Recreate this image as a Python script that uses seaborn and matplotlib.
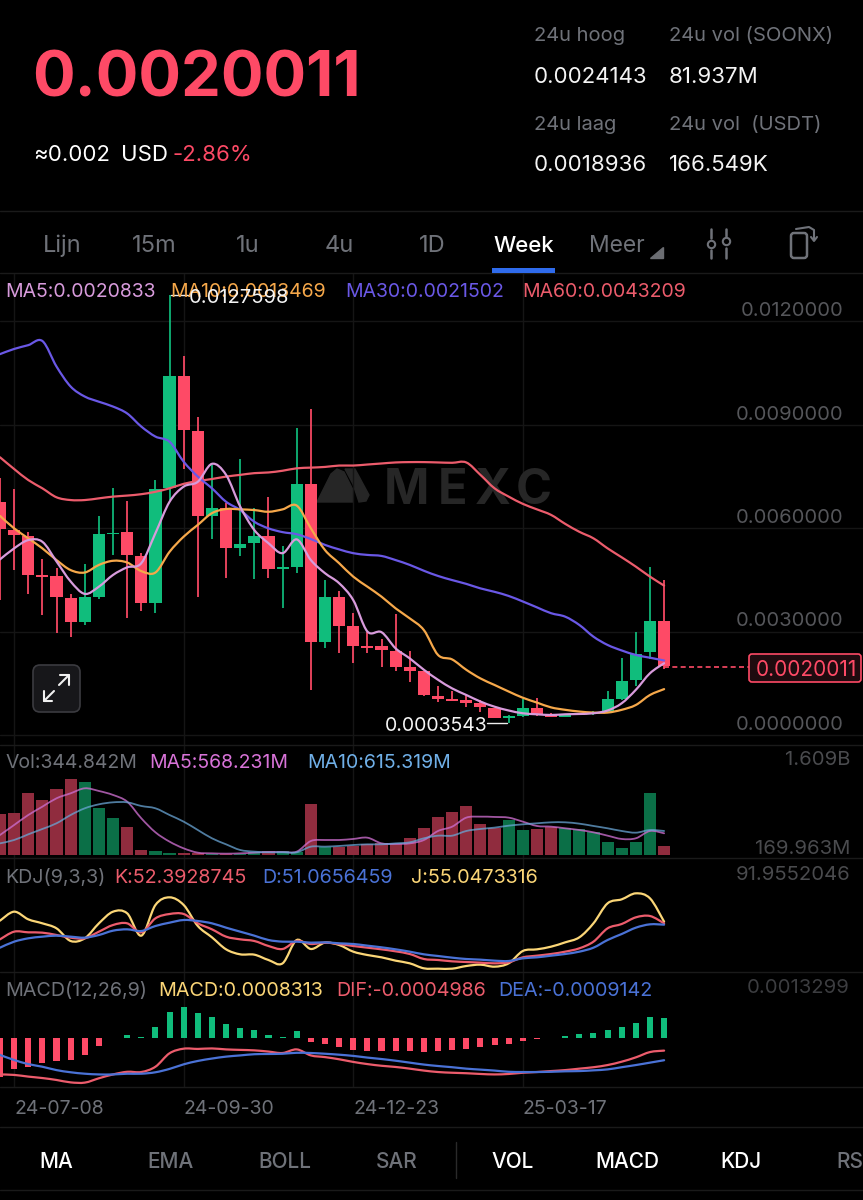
import numpy as np
import pandas as pd
import seaborn as sns
import matplotlib
matplotlib.use("Agg")
import matplotlib.pyplot as plt
from matplotlib.patches import FancyBboxPatch, Polygon, Rectangle
from matplotlib.path import Path
from matplotlib.patheffects import AbstractPathEffect
from matplotlib.transforms import ScaledTranslation

# ---------- data (prices in units of 0.001) ----------
opens = [6.764,5.943,5.779,4.620,4.600,3.982,3.287,4.001,5.817,5.875,5.199,3.837,7.150,10.416,8.822,6.339,6.571,5.431,5.557,5.779,4.813,4.880,7.266,2.706,3.991,3.160,2.581,2.581,2.446,1.972,1.847,1.142,1.016,1.026,0.939,0.775,0.504,0.552,0.775,0.610,0.523,0.581,0.601,0.678,1.055,1.595,2.397,3.315]
closes = [5.962,5.798,4.639,4.581,3.992,3.287,3.992,5.817,5.866,5.219,3.837,7.121,10.416,8.831,6.339,6.581,5.431,5.537,5.779,4.803,4.861,7.266,2.706,3.991,3.170,2.590,2.532,2.465,1.982,1.847,1.151,1.045,0.987,0.939,0.803,0.485,0.552,0.775,0.610,0.533,0.572,0.630,0.678,1.045,1.576,2.349,3.315,2.001]
highs = [7.440,7.131,5.875,5.093,4.832,4.088,4.958,6.358,7.150,6.783,5.267,7.392,12.760,10.985,9.227,7.827,6.716,7.991,6.571,6.890,5.489,8.909,9.440,4.494,4.184,3.528,2.996,2.774,3.499,2.446,1.847,1.422,1.277,1.161,1.016,0.775,0.581,1.035,1.064,0.630,0.590,0.640,0.707,1.286,2.223,2.977,4.880,4.484]
lows = [3.914,4.784,4.088,3.480,2.948,2.852,3.190,3.934,5.209,3.402,3.595,3.547,6.812,7.711,3.992,5.672,4.542,5.199,4.513,4.562,3.673,4.687,1.306,2.513,2.368,2.098,2.388,1.982,1.866,1.547,1.132,0.968,0.987,0.823,0.678,0.485,0.354,0.514,0.552,0.514,0.510,0.570,0.581,0.630,1.016,1.422,2.194,1.904]
ma5 = [5.09,5.41,5.65,5.60,5.03,4.45,4.09,4.30,4.64,4.86,4.98,5.85,6.76,7.20,7.34,7.86,7.54,6.62,5.94,5.56,5.27,5.67,5.07,4.69,4.40,3.91,3.00,2.98,2.51,2.22,1.89,1.60,1.35,1.16,0.97,0.82,0.71,0.63,0.60,0.58,0.60,0.61,0.63,0.71,0.92,1.31,1.79,2.08]
ma10 = [6.35,5.99,5.70,5.41,5.07,4.78,4.71,4.93,5.05,5.00,4.75,4.71,5.31,5.75,6.09,6.43,6.55,6.54,6.52,6.47,6.54,6.65,5.99,5.36,4.98,4.59,4.30,4.01,3.67,3.38,3.04,2.32,2.19,1.89,1.64,1.45,1.26,1.08,0.94,0.80,0.73,0.68,0.65,0.65,0.73,0.87,1.16,1.33]
ma30 = [11.04,11.19,11.30,11.42,10.68,10.10,9.81,9.66,9.52,9.32,8.94,8.65,8.50,7.92,7.49,7.15,6.76,6.52,6.18,5.99,5.88,5.82,5.68,5.51,5.38,5.27,5.22,5.19,5.07,4.93,4.76,4.61,4.49,4.38,4.25,4.15,4.03,3.87,3.70,3.53,3.43,3.19,2.85,2.61,2.45,2.32,2.24,2.16]
ma60 = [8.05,7.71,7.39,7.15,6.89,6.81,6.81,6.86,6.91,6.94,6.98,7.05,7.15,7.28,7.36,7.42,7.49,7.54,7.59,7.61,7.66,7.73,7.75,7.77,7.81,7.81,7.84,7.87,7.90,7.91,7.91,7.90,7.89,7.90,7.54,7.15,6.91,6.70,6.54,6.38,6.12,5.89,5.70,5.41,5.15,4.88,4.59,4.33]
volume = [959,992,1367,1238,1445,1645,1580,1076,895,707,267,254,215,209,202,196,189,189,235,248,254,235,1153,332,332,351,377,396,384,506,688,914,998,1128,765,688,843,649,675,720,701,675,610,416,299,429,1380,345]
vol_ma5 = [558,752,946,1108,1270,1367,1464,1412,1335,1205,882,610,429,299,215,202,196,202,215,228,228,235,442,461,461,481,506,396,384,396,461,636,720,895,914,908,895,817,733,720,688,655,610,545,481,494,636,591]
vol_ma10 = [396,461,571,675,785,946,1076,1153,1192,1192,1121,1076,946,817,655,494,377,267,235,222,222,222,332,332,345,364,377,377,396,416,494,545,545,636,675,701,739,765,785,804,804,778,733,688,636,603,655,636]
kdj_k = [28.4,39.9,38.9,38.4,34.9,30.9,29.9,39.9,49.9,52.4,38.9,59.9,66.4,66.4,52.4,43.4,32.4,28.4,25.9,18.4,13.9,25.9,21.4,23.4,21.4,18.4,15.9,13.4,10.4,6.4,-1.1,-2.6,-4.6,-5.6,-6.6,-7.6,-6.1,1.4,3.9,6.4,9.9,14.9,24.9,44.9,51.4,61.4,63.4,52.4]
kdj_d = [15.9,24.9,29.9,32.4,33.9,32.4,30.9,34.9,41.4,43.4,40.9,48.4,53.4,57.4,55.9,52.4,45.9,39.9,33.9,27.4,24.9,24.9,23.4,23.9,22.4,21.4,18.9,16.4,13.4,9.9,5.9,3.4,0.9,-1.1,-2.1,-3.6,-4.1,-0.1,1.4,3.9,6.4,9.9,15.9,27.4,36.4,45.9,50.9,50.4]
kdj_j = [56.4,69.9,58.4,52.4,44.9,25.9,29.9,52.4,69.9,67.4,33.9,79.9,91.4,79.9,48.4,31.4,13.4,5.9,5.4,-2.6,-7.6,27.4,13.9,23.4,19.9,9.9,4.9,1.4,-3.6,-7.6,-15.1,-15.6,-15.6,-11.6,-9.6,-12.6,-7.6,10.9,13.4,17.4,23.9,31.4,52.4,82.4,88.4,97.4,89.9,54.9]
macd_hist = [-1.59,-1.29,-1.18,-1.01,-0.93,-0.90,-0.71,-0.30,0.02,0.14,0.07,0.46,1.11,1.30,1.05,0.87,0.61,0.43,0.33,0.15,0.06,0.29,-0.14,-0.24,-0.36,-0.48,-0.54,-0.54,-0.54,-0.54,-0.57,-0.54,-0.48,-0.43,-0.35,-0.29,-0.22,-0.10,-0.04,0.03,0.10,0.17,0.24,0.33,0.47,0.65,0.87,0.83]
macd_dif = [-1.50,-1.52,-1.59,-1.65,-1.73,-1.83,-1.84,-1.66,-1.50,-1.39,-1.40,-1.18,-0.62,-0.43,-0.44,-0.42,-0.46,-0.48,-0.50,-0.55,-0.61,-0.46,-0.71,-0.78,-0.87,-0.98,-1.07,-1.14,-1.19,-1.26,-1.34,-1.40,-1.43,-1.45,-1.48,-1.50,-1.48,-1.43,-1.40,-1.36,-1.32,-1.26,-1.20,-1.11,-0.97,-0.79,-0.57,-0.51]
macd_dea = [-0.69,-0.90,-1.07,-1.18,-1.32,-1.41,-1.47,-1.50,-1.50,-1.47,-1.47,-1.41,-1.27,-1.08,-0.94,-0.84,-0.76,-0.71,-0.66,-0.65,-0.64,-0.60,-0.61,-0.64,-0.68,-0.73,-0.80,-0.86,-0.93,-1.01,-1.09,-1.15,-1.20,-1.26,-1.30,-1.34,-1.39,-1.40,-1.40,-1.39,-1.37,-1.36,-1.33,-1.29,-1.20,-1.11,-1.01,-0.91]
date_ticks = [1, 13, 25, 37]
date_labels = ["24-07-08", "24-09-30", "24-12-23", "25-03-17"]
price_ticks = [0, 3, 6, 9, 12]
price_labels = ["0.0000000", "0.0030000", "0.0060000", "0.0090000", "0.0120000"]

# ---------- style ----------
W, H = 863, 1200
FONT = "Inter"
RED = "#fe4a66"; GREEN = "#10bd7c"
C5 = "#d89bdc"; C10 = "#f6a84a"; C30 = "#6a58e6"; C60 = "#ec5c6c"
GRID = "#151515"; GRAY = "#6f7279"; DIM = "#4a4b4e"
sns.set_theme(style="dark", rc={"axes.facecolor": "none", "figure.facecolor": "black"})
plt.rcParams["font.family"] = [FONT, "DejaVu Sans"]


class SmoothCurve(AbstractPathEffect):
    """Render a line through its points as a smooth curve (app-style rendering)."""
    def draw_path(self, renderer, gc, tpath, affine, rgbFace=None):
        p = np.asarray(tpath.vertices, dtype=float)
        if len(p) < 3:
            renderer.draw_path(gc, tpath, affine, rgbFace)
            return
        q = np.vstack([p[0], p, p[-1]])
        verts = [p[0]]
        for k in range(1, len(q) - 2):
            verts += [q[k] + (q[k + 1] - q[k - 1]) / 6, q[k + 1] - (q[k + 2] - q[k]) / 6, q[k + 1]]
        codes = [Path.MOVETO] + [Path.CURVE4] * (len(verts) - 1)
        renderer.draw_path(gc, Path(np.array(verts), codes), affine, rgbFace)


fig = plt.figure(figsize=(W / 100, H / 100), dpi=100, facecolor="black")

def panel(top, bottom):
    return fig.add_axes([0, 1 - bottom / H, 1, (bottom - top) / H])

def smooth_lines(a):
    for ln in a.get_lines():
        ln.set_path_effects([SmoothCurve()])
        ln.set_solid_capstyle("round")

idx = np.arange(len(closes))
XMAX = W / 14.13
df = pd.DataFrame({"i": idx, "open": opens, "close": closes, "high": highs, "low": lows,
                   "ma5": ma5, "ma10": ma10, "ma30": ma30, "ma60": ma60,
                   "vol": volume, "vol5": vol_ma5, "vol10": vol_ma10,
                   "k": kdj_k, "d": kdj_d, "j": kdj_j,
                   "hist": macd_hist, "dif": macd_dif, "dea": macd_dea})
df["up"] = df["close"] >= df["open"]
df["hist_up"] = df["hist"] >= 0

# background layer (grid, watermark)
bg = fig.add_axes([0, 0, 1, 1], zorder=0)
bg.set_xlim(0, W); bg.set_ylim(H, 0); bg.axis("off")
for i in date_ticks:
    bg.plot([i * 14.13] * 2, [273, 1087], color=GRID, lw=1)
for y in [211, 273, 745, 858, 972, 1087, 1127, 1190]:
    bg.plot([0, W], [y, y], color="#1a1a1a", lw=1)
for x, ch in [(406, "M"), (452, "E"), (493, "X"), (534, "C")]:
    bg.text(x, 491, ch, color="#262626", fontsize=35, fontweight="bold", va="center", ha="center", family=FONT)
bg.add_patch(Polygon([(317, 502), (331, 474), (337, 469), (344, 472), (353, 490), (353, 502)], color="#262626"))
bg.add_patch(Polygon([(345, 469), (355, 469), (369, 495), (366, 501), (359, 502), (353, 484)], color="#262626"))

# ---------- main candles ----------
ax = panel(273, 745); ax.set_zorder(1)
up_color = df["up"].map({True: GREEN, False: RED})
ax.vlines(df["i"], df["low"], df["high"], colors=up_color, lw=1.25, zorder=2)
ax.bar(df["i"], (df["close"] - df["open"]).abs().clip(lower=0.05), bottom=df[["open", "close"]].min(axis=1),
       width=0.86, color=up_color, linewidth=0, edgecolor="none", zorder=2)
for col, c in [("ma60", C60), ("ma30", C30), ("ma10", C10), ("ma5", C5)]:
    sns.lineplot(data=df, x="i", y=col, color=c, lw=1.6, ax=ax, zorder=3)
smooth_lines(ax)

# ---------- volume ----------
ax_v = panel(748, 855); ax_v.set_zorder(1)
sns.barplot(data=df, x="i", y="vol", hue="up", palette={True: "#0b6f47", False: "#902c3e"}, native_scale=True,
            dodge=False, width=0.86, saturation=1, legend=False, linewidth=0, edgecolor="none", ax=ax_v, zorder=2)
sns.lineplot(data=df, x="i", y="vol5", color="#c96ccb", lw=1.3, alpha=0.8, ax=ax_v, zorder=3)
sns.lineplot(data=df, x="i", y="vol10", color="#6aa6d6", lw=1.3, alpha=0.75, ax=ax_v, zorder=3)
smooth_lines(ax_v)

# ---------- KDJ ----------
ax_k = panel(860, 972); ax_k.set_zorder(1)
sns.lineplot(data=df, x="i", y="j", color="#fbd677", lw=1.6, ax=ax_k)
sns.lineplot(data=df, x="i", y="k", color=C60, lw=1.6, ax=ax_k)
sns.lineplot(data=df, x="i", y="d", color="#4a72d6", lw=1.6, ax=ax_k)
smooth_lines(ax_k)

# ---------- MACD ----------
ax_m = panel(972, 1087); ax_m.set_zorder(1)
sns.barplot(data=df, x="i", y="hist", hue="hist_up", palette={True: GREEN, False: RED}, native_scale=True,
            dodge=False, width=0.43, saturation=1, legend=False, linewidth=0, edgecolor="none", ax=ax_m, zorder=2)
sns.lineplot(data=df, x="i", y="dif", color=C60, lw=1.6, ax=ax_m, zorder=3)
sns.lineplot(data=df, x="i", y="dea", color="#4a72d6", lw=1.6, ax=ax_m, zorder=3)
smooth_lines(ax_m)

# limits and axes
limits = {ax: ((735 - 745) / 34.5, (735 - 273) / 34.5), ax_v: (170, 170 + 107 * 19.4),
          ax_k: (-20.6, 147.4), ax_m: (-2.022, 2.756)}
for a, yl in limits.items():
    a.set_xlim(0, XMAX); a.set_ylim(*yl)
    a.set_xlabel(""); a.set_ylabel(""); a.grid(False)
    a.set_xticks([]); a.set_yticks([])
    for s in a.spines.values():
        s.set_visible(False)

# price axis ticks: labels sit inside the plot, just above their grid lines
ax.set_yticks(price_ticks, price_labels)
ax.tick_params(axis="y", left=False, right=False, labelleft=False, labelright=True, pad=-20,
               labelsize=14.5, labelcolor="#55565a")
for t in ax.get_yticklabels():
    t.set_ha("right"); t.set_va("center")
    t.set_transform(t.get_transform() + ScaledTranslation(0, 10 / 100, fig.dpi_scale_trans))
    t.set_family(FONT)
for v in price_ticks:
    ax.axhline(v, color=GRID, lw=1, zorder=0).set_path_effects([])

# date axis ticks
ax_m.set_xticks(date_ticks, date_labels)
ax_m.tick_params(axis="x", bottom=False, pad=3, labelsize=14, labelcolor=GRAY)
for t in ax_m.get_xticklabels():
    t.set_ha("left"); t.set_family(FONT)

# ---------- overlay: header, legends, labels ----------
ov = fig.add_axes([0, 0, 1, 1], zorder=5)
ov.set_xlim(0, W); ov.set_ylim(H, 0); ov.axis("off")
def T(x, y, s, c, size, ha="left", weight="normal", **kw):
    ov.text(x, y + 2, s, color=c, fontsize=size, ha=ha, va="center", fontweight=weight, family=FONT, **kw)

T(32, 78, "0.0020011", RED, 45.5, weight="bold")
T(33, 153, "≈0.002", "#ffffff", 16)
T(121, 153, "USD", "#ffffff", 16)
T(172, 153, "-2.86%", RED, 16)
for x, y, s in [(534, 34, "24u hoog"), (669, 34, "24u vol (SOONX)"), (534, 123, "24u laag"), (669, 123, "24u vol  (USDT)")]:
    T(x, y, s, GRAY, 14.5)
for x, y, s in [(534, 75, "0.0024143"), (669, 75, "81.937M"), (534, 163, "0.0018936"), (669, 163, "166.549K")]:
    T(x, y, s, "#f4f4f4", 16)

for x, s, c, sz, wt in [(62, "Lijn", GRAY, 17, "normal"), (154, "15m", GRAY, 17, "normal"), (248, "1u", GRAY, 17, "normal"),
                        (339, "4u", GRAY, 17, "normal"), (432, "1D", GRAY, 17, "normal"),
                        (524, "Week", "#ffffff", 16, "medium"), (617, "Meer", GRAY, 16.5, "normal")]:
    T(x, 244, s, c, sz, ha="center", weight=wt)
ov.add_patch(Rectangle((492, 268), 63, 5, color="#2f6bec", lw=0))
ov.add_patch(Polygon([(650, 258), (663, 258), (663, 247)], color="#6b6d72"))
ov.plot([711, 711], [229, 238], color=GRAY, lw=1.8); ov.plot([711, 711], [250, 258], color=GRAY, lw=1.8)
ov.plot([726, 726], [229, 236], color=GRAY, lw=1.8); ov.plot([726, 726], [248, 258], color=GRAY, lw=1.8)
ov.scatter([711, 726], [244, 241], s=28, facecolor="black", edgecolor=GRAY, lw=1.5, zorder=3)
ov.add_patch(FancyBboxPatch((791, 233), 16, 25, boxstyle="round,pad=0,rounding_size=3", fc="none", ec=GRAY, lw=1.8))
ov.plot([796, 809, 814, 814], [229, 227, 230, 240], color=GRAY, lw=1.5)
ov.plot([811, 814, 817], [237, 241, 237], color=GRAY, lw=1.5)

for x, s, c in [(5, "MA5:0.0020833", C5), (170, "MA10:0.0013469", C10), (345, "MA30:0.0021502", C30), (522, "MA60:0.0043209", C60)]:
    T(x, 290, s, c, 14)
T(189, 296, "0.0127598", "#f4f4f4", 14.5)
ov.plot([171, 188], [295, 295], color="#eeeeee", lw=1)
T(385, 724, "0.0003543", "#f4f4f4", 14)
ov.plot([487, 507], [723, 723], color="#eeeeee", lw=1)

for x, s, c in [(5, "Vol:344.842M", GRAY), (149, "MA5:568.231M", "#d873d8"), (307, "MA10:615.319M", "#70b0e8")]:
    T(x, 761, s, c, 14)
for x, s, c in [(5, "KDJ(9,3,3)", GRAY), (114, "K:52.3928745", C60), (262, "D:51.0656459", "#4a72d6"), (411, "J:55.0473316", "#fbd677")]:
    T(x, 876, s, c, 14.2)
for x, s, c in [(5, "MACD(12,26,9)", GRAY), (158, "MACD:0.0008313", "#fbd677"), (336, "DIF:-0.0004986", C60), (498, "DEA:-0.0009142", "#4a72d6")]:
    T(x, 989, s, c, 14.2)
for y, s in [(758, "1.609B"), (847, "169.963M"), (873, "91.9552046"), (986, "0.0013299")]:
    T(850, y, s, DIM if y != 986 else "#3c3d40", 14.6, ha="right")

# current price tag
ov.plot([664, 749], [667, 667], color=RED, lw=1.2, ls=(0, (3, 2)))
ov.add_patch(FancyBboxPatch((749, 654), 112, 28, boxstyle="round,pad=0,rounding_size=3", fc="#1f0b0f", ec=RED, lw=1.2))
T(806, 668, "0.0020011", RED, 15, ha="center")

# expand button
ov.add_patch(FancyBboxPatch((33, 665), 47, 47, boxstyle="round,pad=0,rounding_size=7", fc="#17171a", ec="#3b3b40", lw=1.2))
ov.plot([44, 44, 52], [691, 701, 701], color="#f0f0f0", lw=1.5)
ov.plot([44, 54], [701, 691], color="#f0f0f0", lw=1.5)
ov.plot([60, 69, 69], [675, 675, 685], color="#f0f0f0", lw=1.5)
ov.plot([69, 59], [675, 685], color="#f0f0f0", lw=1.5)

for x, s, c in [(56, "MA", "#ffffff"), (170, "EMA", GRAY), (285, "BOLL", GRAY), (397, "SAR", GRAY),
                (513, "VOL", "#ffffff"), (627, "MACD", "#ffffff"), (741, "KDJ", "#ffffff")]:
    T(x, 1160, s, c, 15, ha="center", weight="medium")
T(836, 1160, "RS", GRAY, 15, weight="medium")
ov.plot([456, 456], [1142, 1178], color="#2a2a2a", lw=1)

fig.savefig("out.png", dpi=100, facecolor="black")
